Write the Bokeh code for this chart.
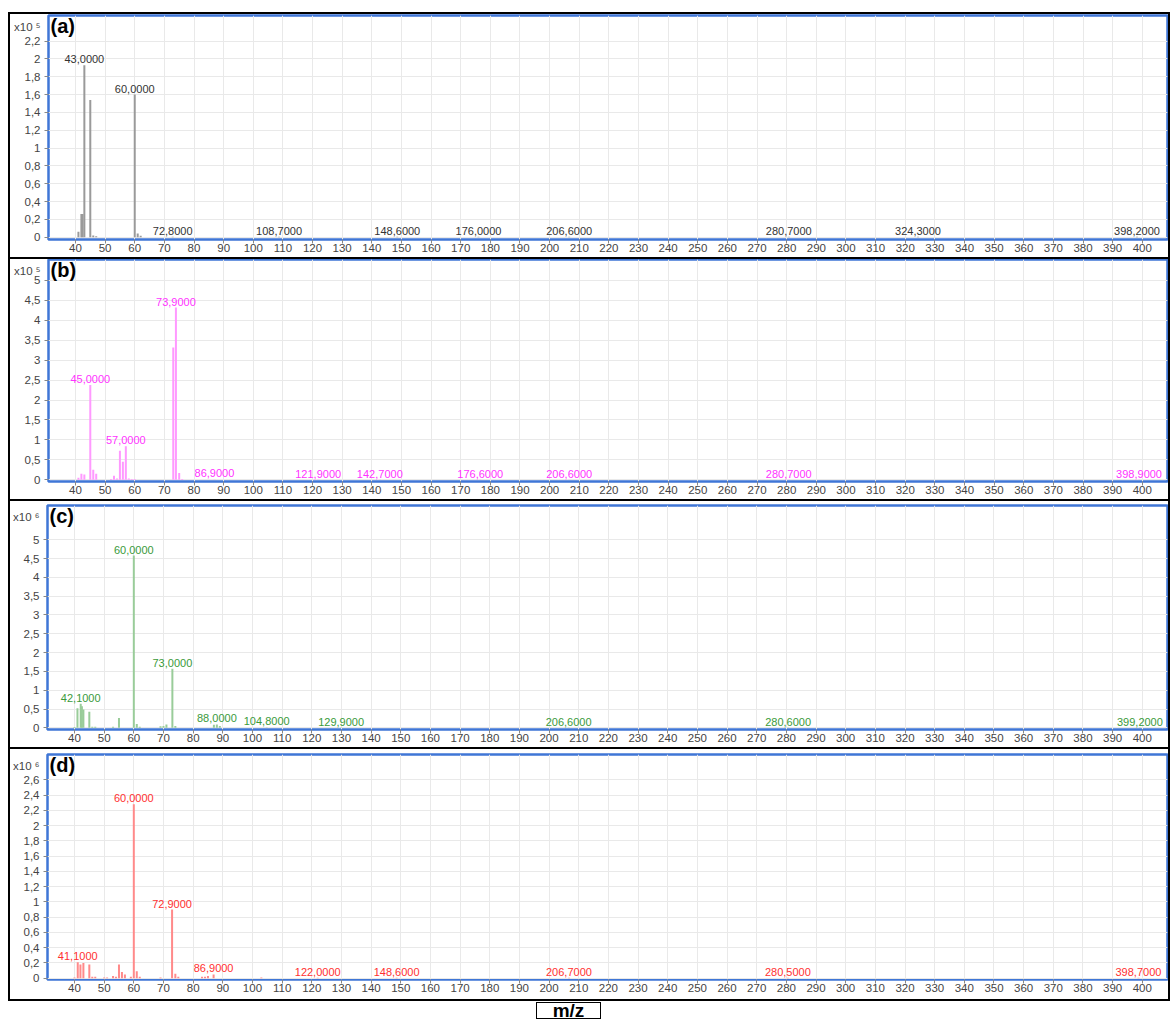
from bokeh.plotting import figure
from bokeh.models import Label, FixedTicker, Spacer, Div, ColumnDataSource, CustomJSTickFormatter
from bokeh.layouts import column, row
from bokeh.core.properties import value
from bokeh.embed import file_html
from bokeh.resources import INLINE

X_TICKS = list(range(40, 401, 10))

# Panel (a) x10^5
A_MZ = [41, 42, 42.4, 43.0, 45, 46, 47, 60.0, 61, 62, 72.8, 108.7, 148.6, 176.0, 206.6, 280.7, 324.3, 398.2]
A_INT = [0.06, 0.26, 0.26, 1.93, 1.54, 0.02, 0.01, 1.60, 0.04, 0.015, 0.006, 0.004, 0.004, 0.004, 0.004, 0.004, 0.004, 0.004]
A_LABELS = [43.0, 60.0, 72.8, 108.7, 148.6, 176.0, 206.6, 280.7, 324.3, 398.2]
A_YTICKS = [0, 0.2, 0.4, 0.6, 0.8, 1, 1.2, 1.4, 1.6, 1.8, 2, 2.2]

# Panel (b) x10^5
B_MZ = [41, 42, 43, 45.0, 46, 47, 52, 53, 54, 55, 56, 57.0, 58, 59, 60, 73, 73.9, 75, 76,
        86.9, 121.9, 142.7, 176.6, 206.6, 280.7, 398.9]
B_INT = [0.05, 0.15, 0.13, 2.38, 0.25, 0.15, 0.02, 0.10, 0.03, 0.73, 0.45, 0.84, 0.03, 0.02, 0.02, 3.32, 4.32, 0.17, 0.02,
         0.01, 0.005, 0.005, 0.005, 0.005, 0.005, 0.005]
B_LABELS = [45.0, 57.0, 73.9, 86.9, 121.9, 142.7, 176.6, 206.6, 280.7, 398.9]
B_YTICKS = [0, 0.5, 1, 1.5, 2, 2.5, 3, 3.5, 4, 4.5, 5]

# Panel (c) x10^6
C_MZ = [40, 41, 42.1, 42.5, 43, 45, 46, 47, 53, 55, 60.0, 61, 62, 69, 70, 71, 73.0, 74, 87, 88.0, 89,
        104.8, 129.9, 206.6, 280.6, 399.2]
C_INT = [0.02, 0.52, 0.64, 0.57, 0.49, 0.43, 0.03, 0.03, 0.03, 0.26, 4.58, 0.10, 0.03, 0.04, 0.05, 0.09, 1.57, 0.05, 0.08, 0.09, 0.05,
         0.01, 0.005, 0.005, 0.005, 0.005]
C_LABELS = [42.1, 60.0, 73.0, 88.0, 104.8, 129.9, 206.6, 280.6, 399.2]
C_YTICKS = [0, 0.5, 1, 1.5, 2, 2.5, 3, 3.5, 4, 4.5, 5]

# Panel (d) x10^6
D_MZ = [40, 41.1, 42, 43, 45, 46, 47, 50, 51, 53, 54, 55, 56, 57, 59, 60.0, 61, 62, 69, 72.9, 74, 75, 83, 84, 85, 86.9, 103,
        122.0, 148.6, 206.7, 280.5, 398.7]
D_INT = [0.01, 0.21, 0.18, 0.20, 0.18, 0.02, 0.02, 0.01, 0.01, 0.03, 0.02, 0.18, 0.08, 0.05, 0.02, 2.28, 0.09, 0.02, 0.01, 0.90, 0.06, 0.02, 0.02, 0.02, 0.03, 0.05, 0.01,
         0.005, 0.005, 0.005, 0.005, 0.005]
D_LABELS = [41.1, 60.0, 72.9, 86.9, 122.0, 148.6, 206.7, 280.5, 398.7]
D_YTICKS = [0, 0.2, 0.4, 0.6, 0.8, 1, 1.2, 1.4, 1.6, 1.8, 2, 2.2, 2.4, 2.6]

X_RANGE = (30.9, 408.5)
FONT = "Liberation Sans"
BLUE = "#3f76d6"
FIG_W = 1158


def make_panel(letter, exponent, mz, inten, labels, yticks, yrange,
               bar_color, text_color, frame_h, top_pad, bottom):
    p = figure(width=FIG_W, height=top_pad + frame_h + bottom,
               x_range=X_RANGE, y_range=yrange,
               output_backend="svg", toolbar_location=None,
               min_border_left=36, min_border_right=1,
               min_border_top=top_pad, min_border_bottom=bottom)
    p.background_fill_color = "white"
    p.border_fill_color = "white"
    p.outline_line_color = BLUE
    p.outline_line_width = 2.5

    p.segment(x0=mz, y0=[0] * len(mz), x1=mz, y1=inten, line_color=bar_color, line_width=2)

    lab_y = [inten[mz.index(m)] for m in labels]
    lab_txt = [f"{m:.4f}".replace(".", ",") for m in labels]
    src = ColumnDataSource(dict(x=labels, y=lab_y, t=lab_txt))
    p.text(x="x", y="y", text="t", source=src, text_align="center", text_baseline="bottom",
           y_offset=-2, text_font_size="11px", text_color=text_color, text_font=value(FONT))

    for ax in (p.xaxis[0], p.yaxis[0]):
        ax.axis_line_color = None
        ax.major_tick_in = 0
        ax.minor_tick_in = 0
        ax.major_label_text_font = FONT
        ax.major_label_text_font_size = "11.5px"
        ax.major_label_text_color = "#444444"
    p.xaxis.ticker = FixedTicker(ticks=X_TICKS)
    p.xaxis.major_tick_line_color = "#888888"
    p.xaxis.minor_tick_line_color = None
    p.xaxis.major_tick_out = 4
    p.xaxis.major_label_standoff = 0

    # y axis: the exponent marker "x10 n" sits above the top tick, as an extra labelled
    # position without a tick mark; the visible tick marks are drawn as minor ticks.
    px_per_unit = frame_h / (yrange[1] - yrange[0])
    exp_pos = yrange[1] - 11.5 / px_per_unit
    p.yaxis.ticker = FixedTicker(ticks=yticks + [exp_pos], minor_ticks=yticks)
    p.yaxis.major_tick_line_color = None
    p.yaxis.major_tick_out = 0
    p.yaxis.minor_tick_line_color = "#888888"
    p.yaxis.minor_tick_out = 4
    p.yaxis.major_label_standoff = 4
    p.yaxis.formatter = CustomJSTickFormatter(
        args=dict(top=max(yticks), lab="x10 " + exponent),
        code="if (tick > top + 1e-6) { return lab; } "
             "var s = (Math.round(tick*10)/10).toString(); return s.replace('.', ',');")

    p.xgrid.grid_line_color = "#e9e9e9"
    p.ygrid.grid_line_color = "#e9e9e9"
    p.xgrid.ticker = FixedTicker(ticks=X_TICKS)
    p.ygrid.ticker = FixedTicker(ticks=yticks)

    p.add_layout(Label(x=X_RANGE[0], y=yrange[1], text=f"({letter})", x_offset=2, y_offset=1,
                       text_baseline="top", text_align="left", text_font=FONT,
                       text_font_style="bold", text_font_size="20px", text_color="black"))
    return p


def hline():
    return Div(text="", width=FIG_W + 4, height=2, margin=0, styles={"background-color": "black"})


def framed(p):
    vl = Div(text="", width=2, height=p.height, margin=0, styles={"background-color": "black"})
    vr = Div(text="", width=2, height=p.height, margin=0, styles={"background-color": "black"})
    return row(vl, p, vr)


pa = make_panel("a", "⁵", A_MZ, A_INT, A_LABELS, A_YTICKS, (-0.026, 2.488),
                "#9a9a9a", "#333333", 224, 1, 18)
pb = make_panel("b", "⁵", B_MZ, B_INT, B_LABELS, B_YTICKS, (-0.043, 5.525),
                "#ff99ff", "#ff33ff", 222, 0, 18)
pc = make_panel("c", "⁶", C_MZ, C_INT, C_LABELS, C_YTICKS, (-0.045, 5.912),
                "#99cc99", "#3a9a3a", 224, 4, 18)
pd = make_panel("d", "⁶", D_MZ, D_INT, D_LABELS, D_YTICKS, (-0.017, 2.932),
                "#ff8a8a", "#ff3030", 225, 5, 20)

mz_box = Div(text="m/z", width=65, height=17, margin=0,
             styles={"border": "1.5px solid black", "font-weight": "bold", "font-size": "19px",
                     "text-align": "center", "line-height": "15px", "font-family": FONT,
                     "color": "black", "box-sizing": "border-box"})

inner = column(Spacer(height=12), hline(), framed(pa), hline(), framed(pb), hline(), framed(pc),
               hline(), framed(pd), hline(), Spacer(height=1), row(Spacer(width=528), mz_box))
layout = row(Spacer(width=8), inner)

open("out.html", "w").write(file_html(layout, INLINE))
